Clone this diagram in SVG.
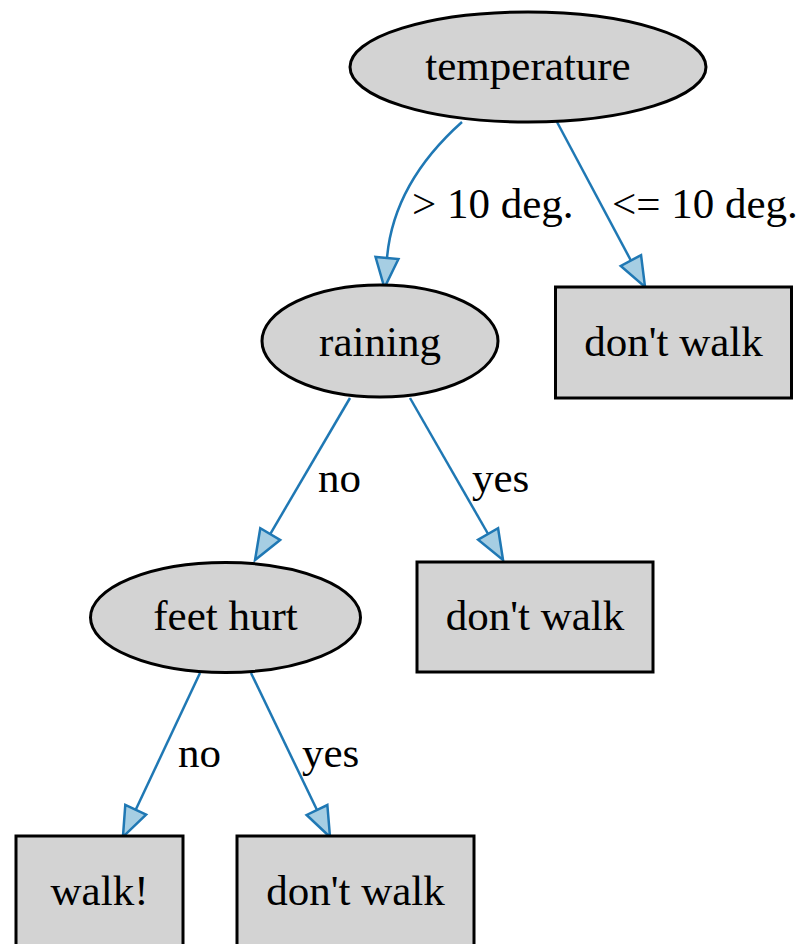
<svg xmlns="http://www.w3.org/2000/svg" width="801" height="944" viewBox="0 0 801 944">
<style>
.n{fill:#d3d3d3;stroke:#000;stroke-width:3}
.t{font-family:"Liberation Serif",serif;font-size:43px;fill:#000;text-anchor:middle}
.l{font-family:"Liberation Serif",serif;font-size:43px;fill:#000}
.e{fill:none;stroke:#1f78b4;stroke-width:2.5}
</style>
<defs>
<marker id="ah" markerUnits="userSpaceOnUse" markerWidth="32" markerHeight="26" viewBox="0 0 32 26" refX="1" refY="13" orient="auto" overflow="visible">
<path d="M1,1.5 L31,13 L1,24.5 Z" fill="#a6cee3" stroke="#1f78b4" stroke-width="2.5"/>
</marker>
</defs>
<rect width="801" height="944" fill="#fff"/>
<g id="connectors">
<path class="e" d="M462,122 C425,155 392,200 387,258" marker-end="url(#ah)"/>
<path class="e" d="M557,122 L630.9,260.5" marker-end="url(#ah)"/>
<path class="e" d="M350,398 L270.2,534.1" marker-end="url(#ah)"/>
<path class="e" d="M410,398 L488.1,534" marker-end="url(#ah)"/>
<path class="e" d="M200,673 L135.7,809.8" marker-end="url(#ah)"/>
<path class="e" d="M251,673 L317,810" marker-end="url(#ah)"/>
<text class="l" x="412" y="218">&gt; 10 deg.</text>
<text class="l" x="612" y="218">&lt;= 10 deg.</text>
<text class="l" x="318" y="492">no</text>
<text class="l" x="472" y="492">yes</text>
<text class="l" x="178" y="767">no</text>
<text class="l" x="302" y="767">yes</text>
</g>
<g id="temperature">
<ellipse class="n" cx="528" cy="67" rx="178" ry="55"/>
<text class="t" x="528" y="80">temperature</text>
</g>
<g id="raining">
<ellipse class="n" cx="380" cy="341" rx="118" ry="56"/>
<text class="t" x="380" y="356">raining</text>
</g>
<g id="dontwalk1">
<rect class="n" x="555.5" y="287" width="236" height="111"/>
<text class="t" x="673.5" y="356">don't walk</text>
</g>
<g id="feethurt">
<ellipse class="n" cx="225.5" cy="617.5" rx="135" ry="55"/>
<text class="t" x="225.5" y="630">feet hurt</text>
</g>
<g id="dontwalk2">
<rect class="n" x="417" y="562" width="236" height="110"/>
<text class="t" x="535" y="630">don't walk</text>
</g>
<g id="walk">
<rect class="n" x="16" y="836" width="167" height="111"/>
<text class="t" x="99.5" y="905">walk!</text>
</g>
<g id="dontwalk3">
<rect class="n" x="237" y="836" width="237" height="111"/>
<text class="t" x="355.5" y="905">don't walk</text>
</g>
</svg>
